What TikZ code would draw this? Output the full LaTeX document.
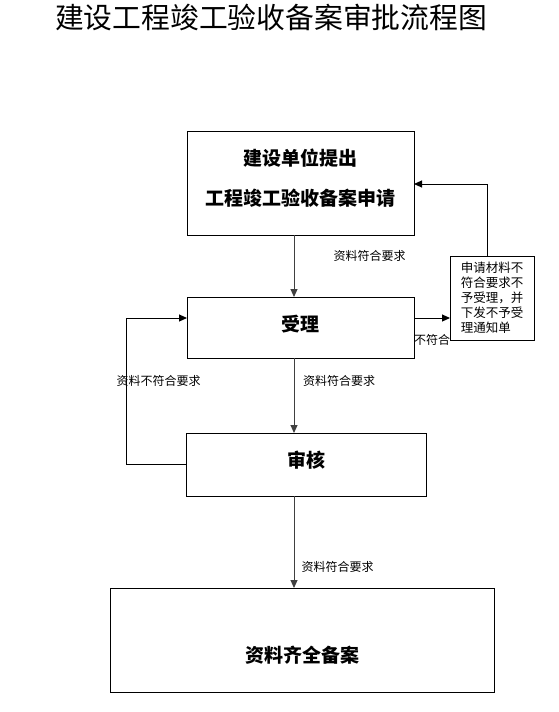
\documentclass[tikz,border=0pt]{standalone}
\usepackage{fontspec}
\newfontfamily\cjk{Noto Sans CJK SC}
\usetikzlibrary{arrows.meta}
\newcommand{\shiftup}[2]{\raisebox{#1}[\height][\depth]{#2}}
\begin{document}
\begin{tikzpicture}[x=1pt,y=-1pt,
  box/.style={draw=black,line width=1pt,inner sep=0pt,outer sep=0pt,font=\cjk\bfseries\fontsize{19}{23}\selectfont,align=center},
  lbl/.style={font=\cjk\fontsize{12}{15}\selectfont,inner sep=0pt},
  arr/.style={line width=1pt,-{Triangle[length=8pt,width=7pt]}},
  varr/.style={arr,draw=black!75}]
\useasboundingbox (0,0) rectangle (559,712);
\fill[white] (0,0) rectangle (559,712);
% title
\node[font=\cjk\fontsize{28.8}{32}\selectfont,inner sep=0pt] (title) at (271,17) {建设工程竣工验收备案审批流程图};
% boxes
\node[box,minimum width=227pt,minimum height=104pt] (b1) at (300.5,183) {\shiftup{5pt}{\parbox{227pt}{\centering 建设单位提出\\[17pt]工程竣工验收备案申请}}};
\node[box,minimum width=227pt,minimum height=61pt] (b2) at (300.5,327.5) {\shiftup{3pt}{受理}};
\node[box,minimum width=240pt,minimum height=63pt] (b3) at (306,464.5) {\shiftup{4pt}{审核}};
\node[box,minimum width=384pt,minimum height=104pt] (b4) at (302,640) {\shiftup{-15pt}{资料齐全备案}};
\node[draw=black,line width=1pt,inner sep=0pt,outer sep=0pt,minimum width=84pt,minimum height=84pt,
  font=\cjk\fontsize{12.5}{15}\selectfont,align=left] (side) at (492,298)
  {申请材料不\\符合要求不\\予受理，并\\下发不予受\\理通知单};
% helper coordinates
\coordinate (axis) at (294,0);
\coordinate (rowA) at (0,318);
\coordinate (rowT) at (0,184);
\coordinate (colS) at (487,0);
\coordinate (loopL) at (126,0);
% connectors
\draw[varr] (b1.south -| axis) -- (b2.north -| axis);
\draw[varr] (b2.south -| axis) -- (b3.north -| axis);
\draw[varr] (b3.south -| axis) -- (b4.north -| axis);
\draw[arr] (b2.east |- rowA) -- (side.west |- rowA);
\draw[arr] (side.north -| colS) |- (b1.east |- rowT);
\draw[arr] (b3.west) -| (loopL |- rowA) -- (b2.west |- rowA);
% labels
\node[lbl] (l1) at (369.5,256) {资料符合要求};
\node[lbl] (l2) at (339,381) {资料符合要求};
\node[lbl] (l3) at (337.5,567) {资料符合要求};
\node[lbl] (l4) at (158.5,381) {资料不符合要求};
\node[lbl] (l5) at (432,340) {不符合};
\end{tikzpicture}
\end{document}
